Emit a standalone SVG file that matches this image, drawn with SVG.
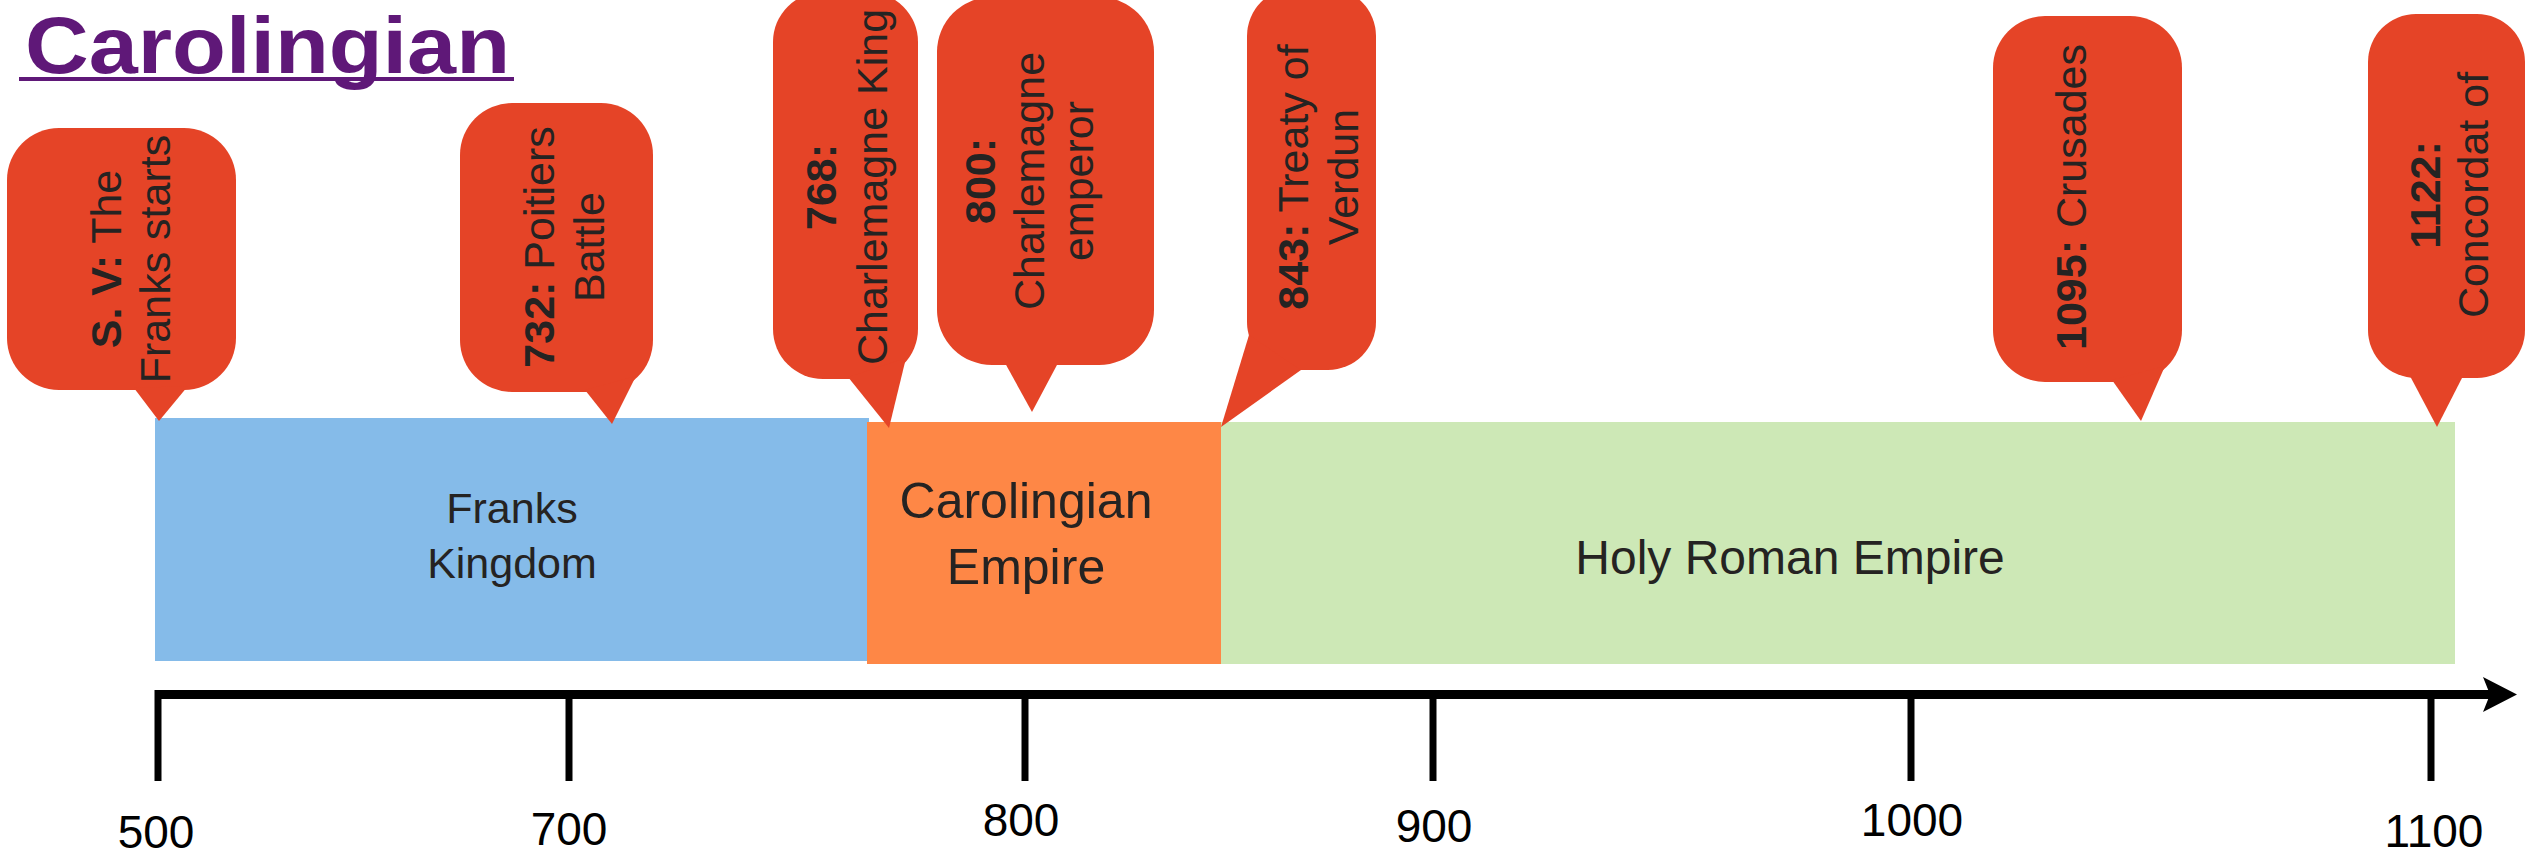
<svg xmlns="http://www.w3.org/2000/svg" width="2529" height="860" viewBox="0 0 2529 860">
<style>
.co{fill:#E54427}
.ct{font-family:"Liberation Sans",Arial,sans-serif;font-size:43px;fill:#252322;text-anchor:middle}
.b{font-weight:bold}
.bl{font-family:"Liberation Sans",Arial,sans-serif;fill:#252322;text-anchor:middle}
.tk{font-family:"Liberation Sans",Arial,sans-serif;font-size:46px;fill:#000;text-anchor:middle}
.tick{stroke:#000;stroke-width:7}
</style>
<rect width="2529" height="860" fill="#fff"/>
<g id="title">
<text x="25" y="73" font-family="'Liberation Sans',Arial,sans-serif" font-weight="bold" font-size="80" fill="#5F1878" textLength="485" lengthAdjust="spacingAndGlyphs">Carolingian</text>
<rect x="19" y="77" width="495" height="4" fill="#5F1878"/>
</g>
<g id="bands">
<g id="franks"><rect x="155" y="418" width="714" height="243" fill="#85BBE9"/>
<text class="bl" font-size="43"><tspan x="512" y="523">Franks</tspan><tspan x="512" y="578">Kingdom</tspan></text></g>
<g id="carolingian"><rect x="867" y="422" width="354" height="242" fill="#FE8746"/>
<text class="bl" font-size="50"><tspan x="1026" y="518">Carolingian</tspan><tspan x="1026" y="584">Empire</tspan></text></g>
<g id="hre"><rect x="1221" y="422" width="1234" height="242" fill="#CDE8B6"/>
<text class="bl" font-size="48" x="1790" y="574">Holy Roman Empire</text></g>
</g>
<g id="connectors">
<line x1="155" y1="694.5" x2="2492" y2="694.5" stroke="#000" stroke-width="9"/>
<polygon points="2483,677 2517,694.5 2483,712 2490,694.5" fill="#000"/>
<line class="tick" x1="158" y1="690" x2="158" y2="781"/>
<line class="tick" x1="569" y1="690" x2="569" y2="781"/>
<line class="tick" x1="1025" y1="690" x2="1025" y2="781"/>
<line class="tick" x1="1433" y1="690" x2="1433" y2="781"/>
<line class="tick" x1="1911" y1="690" x2="1911" y2="781"/>
<line class="tick" x1="2431" y1="690" x2="2431" y2="781"/>
</g>
<g id="axis-labels">
<text class="tk" x="156" y="848">500</text>
<text class="tk" x="569" y="845">700</text>
<text class="tk" x="1021" y="836">800</text>
<text class="tk" x="1434" y="842">900</text>
<text class="tk" x="1912" y="836">1000</text>
<text class="tk" x="2434" y="847">1100</text>
</g>
<g id="c500">
<rect class="co" x="7" y="128" width="229" height="262" rx="52"/>
<polygon class="co" points="134,388 188,386 159,421"/>
<text class="ct" transform="translate(121,259) rotate(-90)"><tspan x="0" y="0"><tspan class="b">S. V:</tspan> The</tspan><tspan x="0" y="49">Franks starts</tspan></text>
</g>
<g id="c732">
<rect class="co" x="460" y="103" width="193" height="289" rx="52"/>
<polygon class="co" points="585,390 636,376 612,424"/>
<text class="ct" transform="translate(554,247) rotate(-90)"><tspan x="0" y="0"><tspan class="b">732:</tspan> Poitiers</tspan><tspan x="0" y="50">Battle</tspan></text>
</g>
<g id="c768">
<rect class="co" x="773" y="-8" width="145" height="387" rx="50"/>
<polygon class="co" points="848,377 906,358 889,428"/>
<text class="ct" transform="translate(836,187) rotate(-90)"><tspan x="0" y="0" class="b">768:</tspan><tspan x="0" y="51">Charlemagne King</tspan></text>
</g>
<g id="c800">
<rect class="co" x="937" y="-3" width="217" height="368" rx="55"/>
<polygon class="co" points="1005,363 1058,363 1032,412"/>
<text class="ct" transform="translate(995,181) rotate(-90)"><tspan x="0" y="0" class="b">800:</tspan><tspan x="0" y="49">Charlemagne</tspan><tspan x="0" y="98">emperor</tspan></text>
</g>
<g id="c843">
<rect class="co" x="1247" y="-12" width="129" height="382" rx="48"/>
<polygon class="co" points="1249,335 1301,370 1221,427"/>
<text class="ct" transform="translate(1308,177) rotate(-90)"><tspan x="0" y="0"><tspan class="b">843:</tspan> Treaty of</tspan><tspan x="0" y="50">Verdun</tspan></text>
</g>
<g id="c1095">
<rect class="co" x="1993" y="16" width="189" height="366" rx="52"/>
<polygon class="co" points="2112,380 2165,366 2141,421"/>
<text class="ct" transform="translate(2086,197) rotate(-90)"><tspan class="b">1095:</tspan> Crusades</text>
</g>
<g id="c1122">
<rect class="co" x="2368" y="14" width="157" height="364" rx="48"/>
<polygon class="co" points="2410,376 2463,376 2437,427"/>
<text class="ct" transform="translate(2440,195) rotate(-90)"><tspan x="0" y="0" class="b">1122:</tspan><tspan x="0" y="48">Concordat of</tspan></text>
</g>
</svg>
